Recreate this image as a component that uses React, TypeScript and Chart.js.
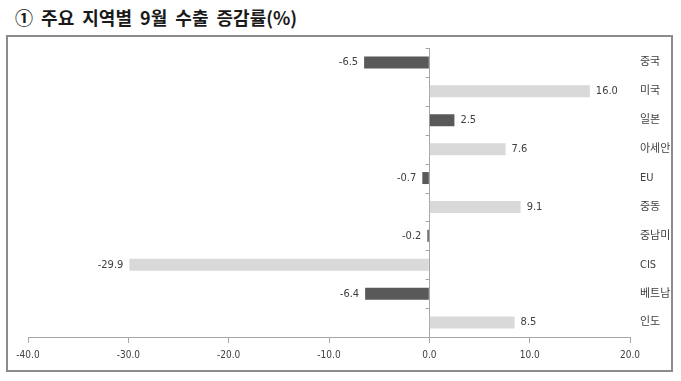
import React, { useEffect, useRef } from "react";
import { Chart, registerables } from "chart.js";

Chart.register(...registerables);

const titleText = "① 주요 지역별 9월 수출 증감률(%)";
const categories = ["중국", "미국", "일본", "아세안", "EU", "중동", "중남미", "CIS", "베트남", "인도"];
const values = [-6.5, 16.0, 2.5, 7.6, -0.7, 9.1, -0.2, -29.9, -6.4, 8.5];
const barColors = ["#595959", "#d9d9d9", "#595959", "#d9d9d9", "#595959", "#d9d9d9", "#595959", "#d9d9d9", "#595959", "#d9d9d9"];
const xTickValues = [-40, -30, -20, -10, 0, 10, 20];

const FONT = '"Liberation Sans Narrow", "DejaVu Sans Condensed", "Noto Sans CJK KR", sans-serif';
const AXIS_COLOR = "#a6a6a6";
const TEXT_COLOR = "#404040";

const valueLabels = {
  id: "valueLabels",
  afterDatasetsDraw(chart: any) {
    const ctx = chart.ctx;
    const meta = chart.getDatasetMeta(0);
    ctx.save();
    ctx.font = `11px ${FONT}`;
    ctx.fillStyle = TEXT_COLOR;
    ctx.textBaseline = "middle";
    meta.data.forEach((bar: any, i: number) => {
      const v = values[i];
      const { x, y } = bar.getProps(["x", "y"], true);
      const txt = v.toFixed(1);
      if (v >= 0) {
        ctx.textAlign = "left";
        ctx.fillText(txt, x + 6, y);
      } else {
        ctx.textAlign = "right";
        ctx.fillText(txt, x - 6, y);
      }
    });
    ctx.restore();
  },
};

const yBoundaryTicks = {
  id: "yBoundaryTicks",
  afterDatasetsDraw(chart: any) {
    const ctx = chart.ctx;
    const xs = chart.scales.x;
    const ys = chart.scales.y;
    const x0 = Math.round(xs.getPixelForValue(0)) + 0.5;
    ctx.save();
    ctx.strokeStyle = AXIS_COLOR;
    ctx.lineWidth = 1;
    ctx.beginPath();
    for (let i = 0; i <= categories.length; i++) {
      const y = Math.round(ys.getPixelForValue(i - 0.5)) + 0.5;
      ctx.moveTo(x0 - 4, y);
      ctx.lineTo(x0, y);
    }
    ctx.stroke();
    ctx.restore();
  },
};

export default function App() {
  const canvasRef = useRef<HTMLCanvasElement>(null);

  useEffect(() => {
    if (!canvasRef.current) return;
    const chart = new Chart(canvasRef.current, {
      type: "bar",
      data: {
        labels: categories,
        datasets: [
          {
            data: values,
            backgroundColor: barColors,
            borderWidth: 0,
            barPercentage: 0.83,
            categoryPercentage: 0.5,
          },
        ],
      },
      options: {
        indexAxis: "y",
        responsive: false,
        animation: false,
        devicePixelRatio: 1,
        layout: { padding: { left: 28, right: 9, top: 48, bottom: 14 } },
        plugins: {
          legend: { display: false },
          tooltip: { enabled: false },
          title: { display: false },
        },
        scales: {
          x: {
            type: "linear",
            min: -40,
            max: 20,
            afterBuildTicks: (scale: any) => {
              scale.ticks = xTickValues.map((v) => ({ value: v }));
            },
            ticks: {
              callback: (v: any) => Number(v).toFixed(1),
              font: { size: 10, family: FONT },
              color: TEXT_COLOR,
              padding: 6,
              maxRotation: 0,
            },
            grid: {
              color: (c: any) => (c.tick && c.tick.value === 0 ? AXIS_COLOR : "rgba(0,0,0,0)"),
              tickColor: AXIS_COLOR,
              tickLength: 6,
              drawOnChartArea: true,
              lineWidth: 1,
            },
            border: { display: true, color: AXIS_COLOR, width: 1 },
            afterFit: (scale: any) => {
              scale.height = 30;
            },
          },
          y: {
            position: "right",
            ticks: {
              padding: 10,
              font: { size: 11, family: FONT },
              color: TEXT_COLOR,
            },
            grid: { display: false, drawTicks: false },
            border: { display: false },
            afterFit: (scale: any) => {
              scale.width = 42;
            },
          },
        },
      },
      plugins: [valueLabels, yBoundaryTicks],
    } as any);
    return () => chart.destroy();
  }, []);

  return (
    <div style={{ position: "absolute", left: 0, top: 0, width: 681, height: 381, background: "#fff", overflow: "hidden" }}>
      <div
        style={{
          position: "absolute",
          left: 15,
          top: 5,
          fontFamily: '"Noto Sans CJK KR", sans-serif',
          fontWeight: "bold",
          fontSize: 18,
          lineHeight: "24px",
          wordSpacing: 4,
          color: "#1a1a1a",
          whiteSpace: "nowrap",
        }}
      >
        {titleText}
      </div>
      <div
        style={{
          position: "absolute",
          left: 6,
          top: 35,
          width: 667,
          height: 337,
          border: "2px solid #8c8c8c",
          boxSizing: "border-box",
        }}
      />
      <canvas ref={canvasRef} width={681} height={381} style={{ position: "absolute", left: 0, top: 0 }} />
    </div>
  );
}
